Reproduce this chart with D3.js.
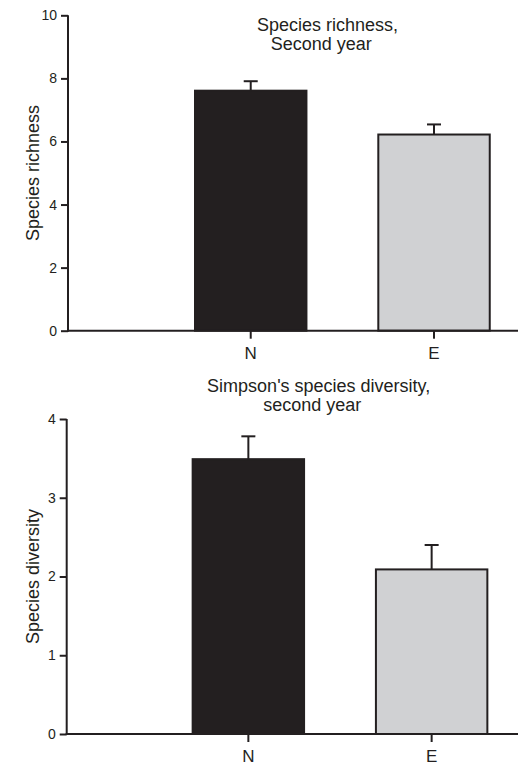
<!DOCTYPE html>
<html><head><meta charset="utf-8">
<script src="https://cdn.jsdelivr.net/npm/d3@7"></script>
<style>body{margin:0;background:#fff}svg{display:block}text{font-family:"Liberation Sans",Arial,sans-serif;fill:#231f20}</style>
</head><body><svg id="c" width="520" height="765"></svg>
<script>
const categories = ["N", "E"];
const richnessMeans = [7.61, 6.22];
const richnessErr = [0.30, 0.32];
const richnessTicks = [0, 2, 4, 6, 8, 10];
const diversityMeans = [3.49, 2.09];
const diversityErr = [0.29, 0.31];
const diversityTicks = [0, 1, 2, 3, 4];
const fills = ["#231f20", "#d0d1d3"];
const ink = "#231f20";

const svg = d3.select("#c");

function panel(o) {
  const g = svg.append("g");
  const y = d3.scaleLinear().domain([0, o.ymax]).range([o.y0, o.y1]);
  const x = d3.scaleBand().domain(categories).range([o.xr0, o.xr1]).paddingInner(0.392).paddingOuter(0.5);
  g.selectAll("rect.bar").data(o.means).enter().append("rect")
    .attr("x", (d, i) => x(categories[i]))
    .attr("width", x.bandwidth())
    .attr("y", d => y(d))
    .attr("height", d => y(0) - y(d))
    .attr("fill", (d, i) => fills[i])
    .attr("stroke", ink).attr("stroke-width", 2);
  o.means.forEach((m, i) => {
    const cx = x(categories[i]) + x.bandwidth() / 2;
    g.append("line").attr("x1", cx).attr("x2", cx).attr("y1", y(m)).attr("y2", y(m + o.err[i]))
      .attr("stroke", ink).attr("stroke-width", 2);
    g.append("line").attr("x1", cx - 7).attr("x2", cx + 7).attr("y1", y(m + o.err[i])).attr("y2", y(m + o.err[i]))
      .attr("stroke", ink).attr("stroke-width", 2);
  });
  const ya = g.append("g").attr("transform", `translate(${o.ax},0)`)
    .call(d3.axisLeft(y).tickValues(o.ticks).tickSize(7).tickSizeOuter(0).tickFormat(d3.format("d")));
  ya.selectAll("path,line").attr("stroke", ink).attr("stroke-width", 2);
  ya.selectAll("text").attr("font-size", 14).attr("fill", ink).attr("dx", "-1");
  ya.select("path.domain").remove();
  g.append("line").attr("x1", o.ax).attr("x2", o.ax).attr("y1", y(o.ymax)).attr("y2", y(0) + 1)
    .attr("stroke", ink).attr("stroke-width", 2);
  const xa = g.append("g").attr("transform", `translate(0,${y(0)})`)
    .call(d3.axisBottom(x).tickSize(8).tickSizeOuter(0).tickPadding(8));
  xa.select("path.domain").remove();
  xa.selectAll("line").attr("stroke", ink).attr("stroke-width", 2);
  xa.selectAll("text").attr("font-size", 17).attr("fill", ink);
  g.append("line").attr("x1", o.ax - 1).attr("x2", 518).attr("y1", y(0)).attr("y2", y(0))
    .attr("stroke", ink).attr("stroke-width", 2);
  g.append("text").attr("transform", `translate(${o.labX},${(y(0) + y(o.ymax)) / 2}) rotate(-90)`)
    .attr("text-anchor", "middle").attr("font-size", 18).text(o.ylabel);
  o.title.forEach((t, i) => {
    g.append("text").attr("x", t.cx).attr("y", t.by).attr("text-anchor", "middle")
      .attr("font-size", 18).text(t.s);
  });
}

panel({
  ymax: 10, y0: 330.7, y1: 15.3, ax: 68, xr0: 103.35, xr1: 581.4,
  means: richnessMeans, err: richnessErr, ticks: richnessTicks,
  ylabel: "Species richness", labX: 38.5,
  title: [{s: "Species richness,", cx: 327.5, by: 30.5}, {s: "Second year", cx: 321.3, by: 49.5}]
});
panel({
  ymax: 4, y0: 734, y1: 419, ax: 66.7, xr0: 101, xr1: 579,
  means: diversityMeans, err: diversityErr, ticks: diversityTicks,
  ylabel: "Species diversity", labX: 38.5,
  title: [{s: "Simpson's species diversity,", cx: 318.7, by: 391.5}, {s: "second year", cx: 312.2, by: 410.5}]
});
</script></body></html>
